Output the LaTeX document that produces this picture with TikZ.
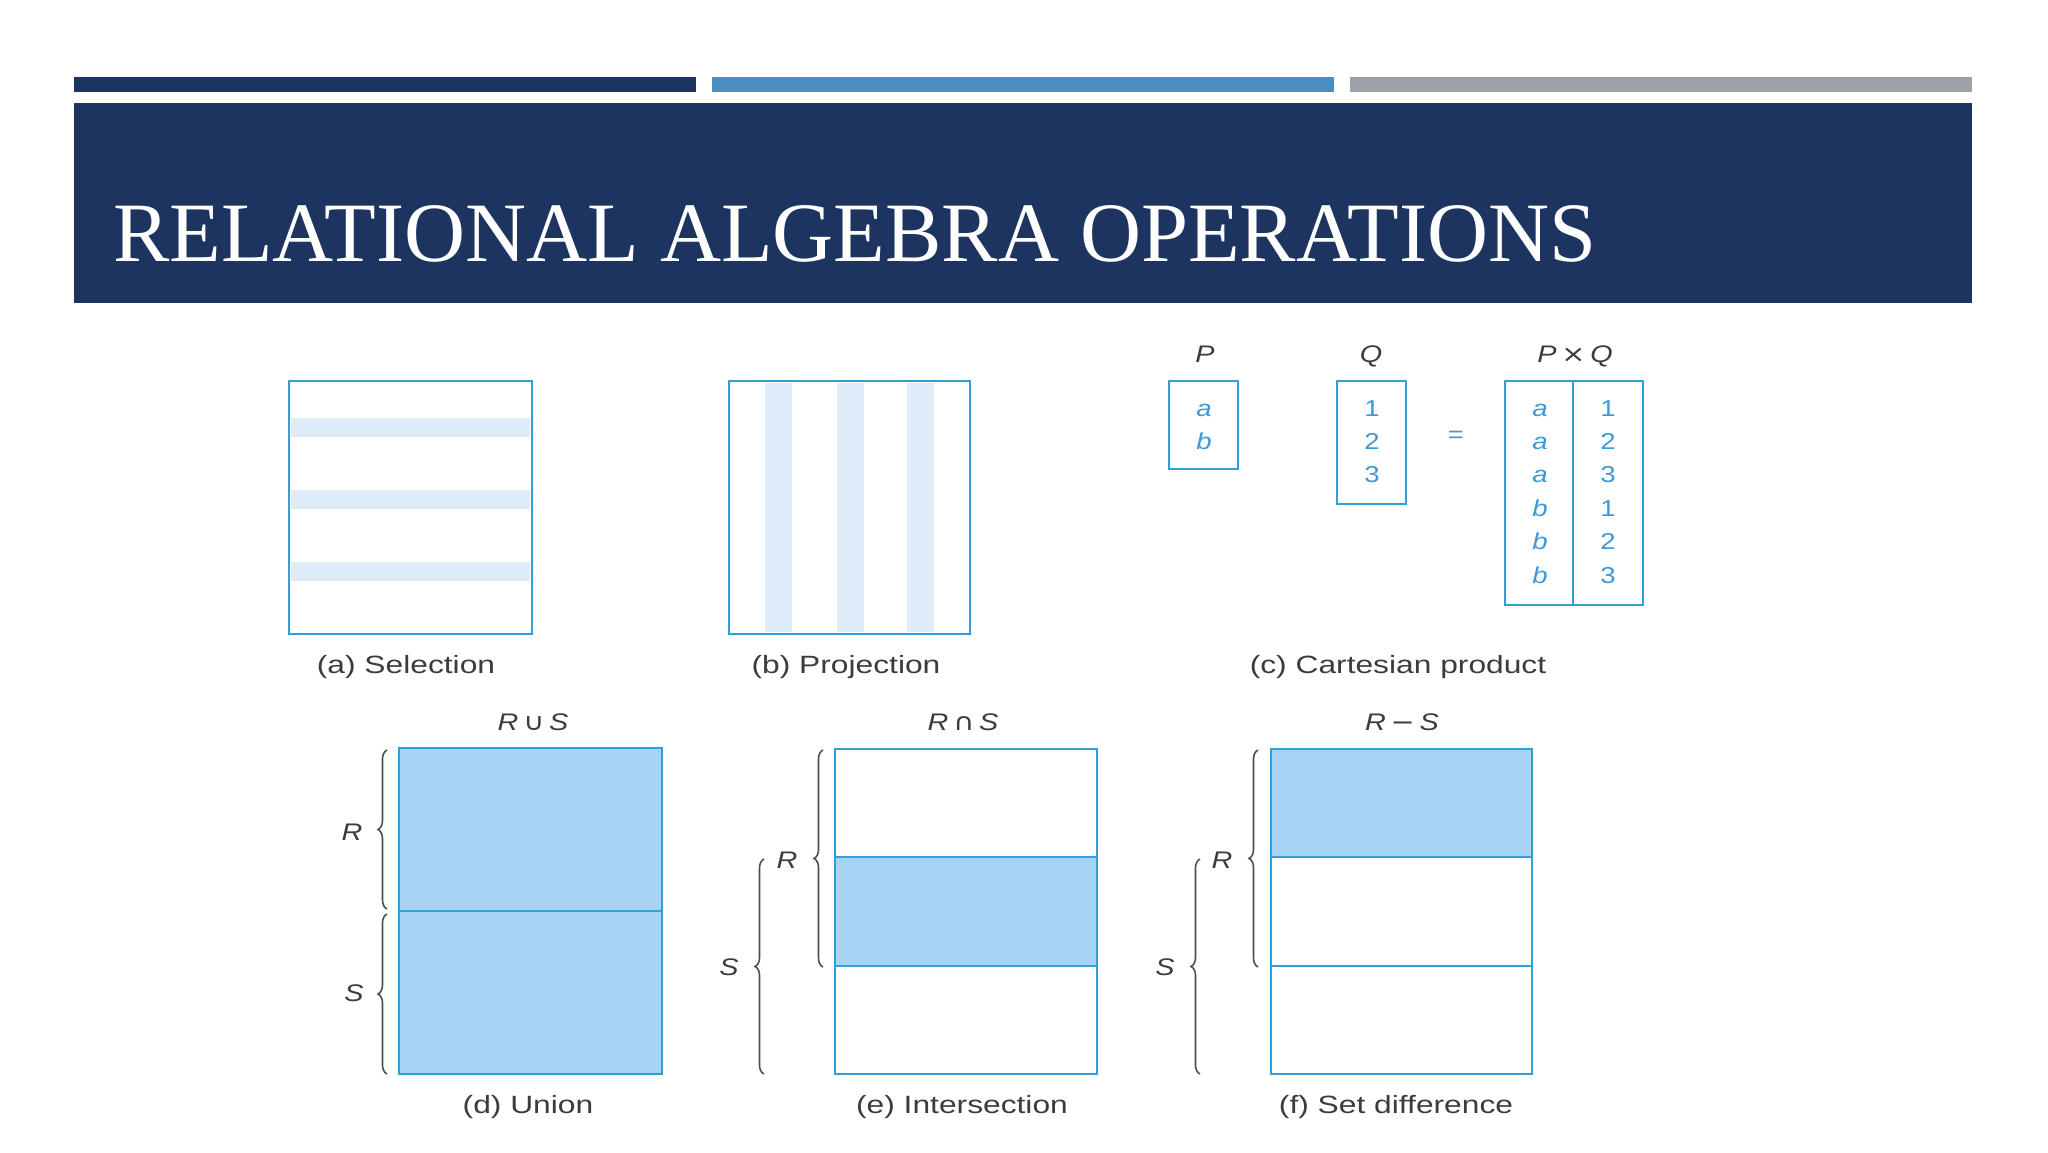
\documentclass[tikz,border=0pt]{standalone}
\usepackage{fontspec}
\usepackage{graphicx}
\setmainfont{Liberation Sans}
\newfontfamily\titlefont{Liberation Serif}
\newfontfamily\symf{DejaVu Sans}
\usetikzlibrary{decorations.pathreplacing}
\definecolor{navy}{HTML}{1D3360}
\definecolor{midblue}{HTML}{4A8FBF}
\definecolor{bargray}{HTML}{9BA1A7}
\definecolor{edgeblue}{HTML}{2FA0DA}
\definecolor{shadeblue}{HTML}{A9D3F5}
\definecolor{stripeblue}{HTML}{DEEBF9}
\definecolor{captgray}{HTML}{3C3C3C}
\definecolor{bracegray}{HTML}{4E4E4E}
\definecolor{cellblue}{HTML}{3D9AD6}
\newcommand{\stretchtxt}[1]{\scalebox{1.2}[1]{#1}}
\newcommand{\captxt}[1]{\scalebox{1.27}[1]{#1}}
\tikzset{
  relbox/.style={draw=edgeblue, line width=2.8pt},
  divline/.style={draw=edgeblue, line width=2.5pt},
  caption/.style={anchor=base, inner sep=0pt, text=captgray, font=\fontsize{25}{25}\selectfont},
  setlabel/.style={anchor=base, inner sep=0pt, text=captgray, font=\fontsize{24}{24}\selectfont},
  bracelabel/.style={anchor=center, inner sep=0pt, text=captgray, font=\fontsize{24}{24}\selectfont\itshape},
  cell/.style={anchor=base, inner sep=0pt, text=cellblue, font=\fontsize{23}{23}\selectfont},
  setbrace/.style={draw=bracegray, line width=1.6pt, decorate, decoration={brace, amplitude=9pt}},
}
\begin{document}
\begin{tikzpicture}[x=1pt, y=-1pt]
\useasboundingbox (0,0) rectangle (2048,1152);
\fill[white] (0,0) rectangle (2048,1152);
% header bars
\fill[navy] (74,77) rectangle (696,92);
\fill[midblue] (712,77) rectangle (1334,92);
\fill[bargray] (1350,77) rectangle (1972,92);
\fill[navy] (74,103) rectangle (1972,303);
\node[anchor=base west, inner sep=0pt, text=white, font=\titlefont\fontsize{84.5}{84.5}\selectfont] (title) at (113,261) {RELATIONAL ALGEBRA OPERATIONS};

% (a) Selection
\fill[stripeblue] (291,418) rectangle (530,437);
\fill[stripeblue] (291,490) rectangle (530,509);
\fill[stripeblue] (291,562) rectangle (530,581);
\draw[relbox] (289,381) rectangle (532,634);
\node[caption] (capa) at (406,673) {\captxt{(a) Selection}};

% (b) Projection
\fill[stripeblue] (765,383) rectangle (792,632);
\fill[stripeblue] (837,383) rectangle (864,632);
\fill[stripeblue] (907,383) rectangle (934,632);
\draw[relbox] (729,381) rectangle (970,634);
\node[caption] (capb) at (846,673) {\captxt{(b) Projection}};

% (c) Cartesian product
\node[setlabel] (lp) at (1205,362) {\stretchtxt{\itshape P}};
\node[setlabel] (lq) at (1371,362) {\stretchtxt{\itshape Q}};
\node[setlabel] (lpq) at (1575,362) {\stretchtxt{\itshape P\,{\symf\upshape ×}\,Q}};
\draw[relbox] (1169,381) rectangle (1238,469);
\node[cell] (pa) at (1204,416) {\stretchtxt{\itshape a}};
\node[cell] (pb) at (1204,449) {\stretchtxt{\itshape b}};
\draw[relbox] (1337,381) rectangle (1406,504);
\node[cell] (q1) at (1372,416) {\stretchtxt{1}};
\node[cell] (q2) at (1372,449) {\stretchtxt{2}};
\node[cell] (q3) at (1372,482) {\stretchtxt{3}};
\node[anchor=center, inner sep=0pt, text=cellblue, font=\fontsize{23}{23}\selectfont] (eq) at (1456,437) {\stretchtxt{=}};
\draw[relbox] (1505,381) rectangle (1643,605);
\draw[divline] (1573,381) -- (1573,605);
\node[cell] (r1a) at (1540,416) {\stretchtxt{\itshape a}};
\node[cell] (r2a) at (1540,449) {\stretchtxt{\itshape a}};
\node[cell] (r3a) at (1540,482) {\stretchtxt{\itshape a}};
\node[cell] (r4b) at (1540,516) {\stretchtxt{\itshape b}};
\node[cell] (r5b) at (1540,549) {\stretchtxt{\itshape b}};
\node[cell] (r6b) at (1540,583) {\stretchtxt{\itshape b}};
\node[cell] (r1n) at (1608,416) {\stretchtxt{1}};
\node[cell] (r2n) at (1608,449) {\stretchtxt{2}};
\node[cell] (r3n) at (1608,482) {\stretchtxt{3}};
\node[cell] (r4n) at (1608,516) {\stretchtxt{1}};
\node[cell] (r5n) at (1608,549) {\stretchtxt{2}};
\node[cell] (r6n) at (1608,583) {\stretchtxt{3}};
\node[caption] (capc) at (1398,673) {\captxt{(c) Cartesian product}};

% (d) Union
\node[setlabel] (lunion) at (533,730) {\stretchtxt{\itshape R\,{\symf\upshape ∪}\,S}};
\fill[shadeblue] (399,748) rectangle (662,1074);
\draw[relbox] (399,748) rectangle (662,1074);
\draw[divline] (399,911) -- (662,911);
\draw[setbrace] (387,909) -- (387,750);
\draw[setbrace] (387,1074) -- (387,914);
\node[bracelabel] (ur) at (352,832) {\stretchtxt{R}};
\node[bracelabel] (us) at (354,993) {\stretchtxt{S}};
\node[caption] (capd) at (528,1113) {\captxt{(d) Union}};

% (e) Intersection
\node[setlabel] (linter) at (963,730) {\stretchtxt{\itshape R\,{\symf\upshape ∩}\,S}};
\fill[shadeblue] (835,857) rectangle (1097,966);
\draw[relbox] (835,749) rectangle (1097,1074);
\draw[divline] (835,857) -- (1097,857);
\draw[divline] (835,966) -- (1097,966);
\draw[setbrace] (823,967) -- (823,750);
\draw[setbrace] (764,1074) -- (764,859);
\node[bracelabel] (ir) at (787,860) {\stretchtxt{R}};
\node[bracelabel] (is) at (729,967) {\stretchtxt{S}};
\node[caption] (cape) at (962,1113) {\captxt{(e) Intersection}};

% (f) Set difference
\node[setlabel] (ldiff) at (1402,730) {\stretchtxt{\itshape R\,{\symf\upshape −}\,S}};
\fill[shadeblue] (1271,749) rectangle (1532,857);
\draw[relbox] (1271,749) rectangle (1532,1074);
\draw[divline] (1271,857) -- (1532,857);
\draw[divline] (1271,966) -- (1532,966);
\draw[setbrace] (1258,967) -- (1258,750);
\draw[setbrace] (1200,1074) -- (1200,859);
\node[bracelabel] (dr) at (1222,860) {\stretchtxt{R}};
\node[bracelabel] (ds) at (1165,967) {\stretchtxt{S}};
\node[caption] (capf) at (1396,1113) {\captxt{(f) Set difference}};
\end{tikzpicture}
\end{document}
